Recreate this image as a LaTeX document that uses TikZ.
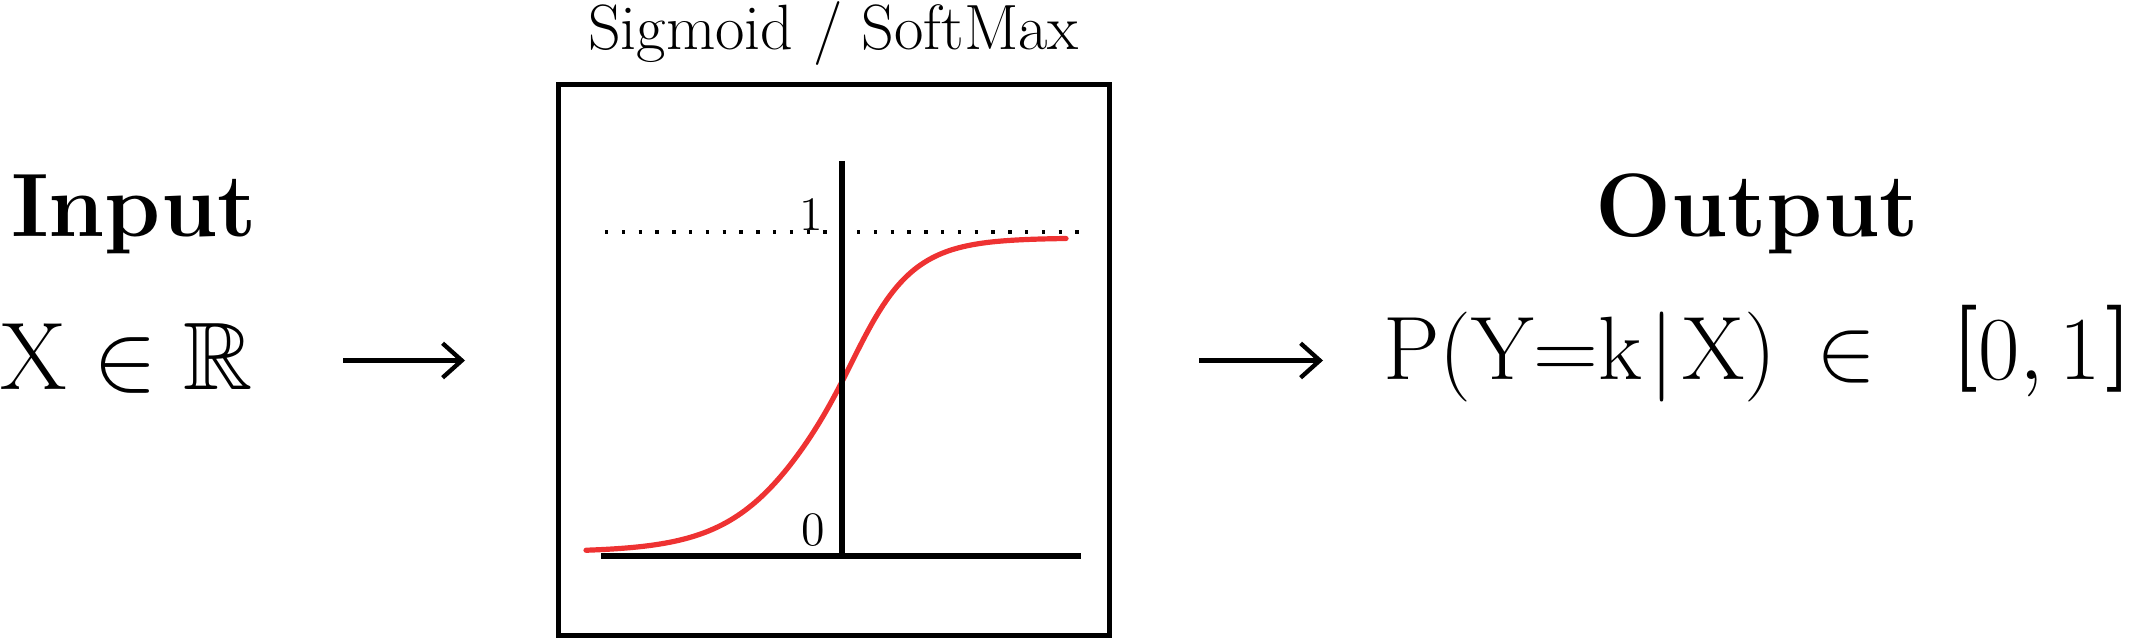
\documentclass[tikz,border=0pt]{standalone}
\usepackage{fix-cm}
\usepackage{amsmath,amssymb}
\DeclareFontFamily{U}{msb}{}
\DeclareFontShape{U}{msb}{m}{n}{<-> msbm10}{}
\usepackage{fontspec}
\usetikzlibrary{arrows.meta}
\definecolor{sigred}{RGB}{238,50,50}
\newcommand{\brk}[1]{\raisebox{2.44pt}{\fontsize{21.75}{26}\selectfont\bfseries #1}}
\begin{document}
\begin{tikzpicture}[x=0.25pt,y=-0.25pt,
  lbl/.style={inner sep=0pt, outer sep=0pt},
  bigtxt/.style={lbl, font=\fontsize{24}{29}\selectfont},
  outtxt/.style={lbl, font=\fontsize{22.5}{27}\selectfont},
  headtxt/.style={lbl, font=\fontsize{22.5}{27}\selectfont\bfseries},
  ticktxt/.style={lbl, font=\fontsize{12}{14}\selectfont},
  arr/.style={line width=1.08pt, -{Straight Barb[length=4.8pt,width=8.6pt,line width=1.08pt]}},
  frame/.style={draw, line width=1.25pt, inner sep=0pt, outer sep=0pt,
    minimum width=137.75pt, minimum height=137.75pt},
  axisline/.style={line width=1.5pt},
  sig/.style={draw=sigred, line width=1.3pt, line cap=round},
  dotline/.style={line width=0.85pt, dash pattern=on 0.85pt off 3.35pt}
]
\useasboundingbox (0,0) rectangle (2136,638);

% box with plot
\node[frame] (box) at (833.5,360.5) {};
\node[lbl, anchor=base, font=\fontsize{16}{19}\selectfont] (title) at (833.5,50) {Sigmoid / SoftMax};

\draw[dotline] (605,232) -- (1080,232);
\draw[sig] plot[domain=586:1066, samples=140]
  (\x, {552 - 314/(1+exp(-(\x-835)/(42-6*tanh((\x-835)/40))))});
\draw[axisline] (842,161) -- (842,556);
\draw[axisline] (601,556) -- (1081,556);
\node[ticktxt, anchor=base east] (one) at (823,231) {1};
\node[ticktxt, anchor=base east] (zero) at (825,546) {0};

% input
\node[headtxt, anchor=base west] (inp) at (11,237) {Input};
\node[bigtxt, anchor=base west] (xin) at (0,390) {$\mathrm{X}\in\mathbb{R}$};

% output
\node[headtxt, anchor=base] (outp) at (1757,237) {Output};
\node[outtxt, anchor=base west] (pout) at (1383,380)
  {$\mathrm{P}(\mathrm{Y}{=}\mathrm{k}\mkern1.5mu|\mkern1.5mu\mathrm{X})\,\in\;\,\mkern2mu\brk{[}0,1\mkern1mu\brk{]}$};

% connectors
\draw[arr, shorten <=22.5pt, shorten >=23.25pt] (xin.east |- box.west) -- (box.west);
\draw[arr, shorten <=22.5pt, shorten >=15pt] (box.east) -- (pout.west |- box.east);
\end{tikzpicture}
\end{document}
